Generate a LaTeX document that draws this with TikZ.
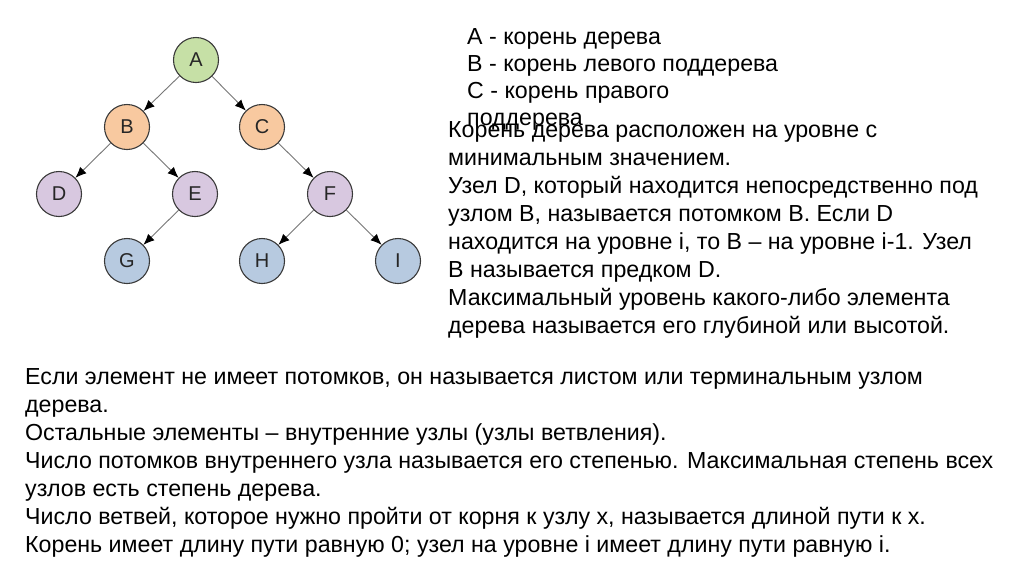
\documentclass[tikz,border=0pt]{standalone}
\usepackage{fontspec}
\setmainfont{Liberation Sans}
\usetikzlibrary{arrows.meta}
\definecolor{cA}{HTML}{C6E0A6}
\definecolor{cB}{HTML}{F8C9A0}
\definecolor{cD}{HTML}{D8C8E0}
\definecolor{cG}{HTML}{B7CAE0}
\definecolor{edgec}{HTML}{777777}
\definecolor{bord}{HTML}{3A3A3A}
\tikzset{
  tnode/.style={circle, draw=bord, line width=1.1pt, minimum size=45pt, inner sep=0pt, font=\fontsize{20}{20}\selectfont, text=black!85},
  tedge/.style={draw=edgec, line width=0.9pt, -{Latex[color=black,length=11pt,width=9pt]}},
  txt/.style={anchor=base west, inner sep=0pt, font=\fontsize{23.2}{23.2}\selectfont},
}
\begin{document}
\begin{tikzpicture}[x=1pt,y=-1pt]
\useasboundingbox[fill=white] (0,0) rectangle (1024,574);
% tree
\node[tnode, fill=cA] (A) at (196,60) {A};
\node[tnode, fill=cB] (B) at (127,127) {B};
\node[tnode, fill=cB] (C) at (262,127) {C};
\node[tnode, fill=cD] (D) at (59,194) {D};
\node[tnode, fill=cD] (E) at (195,194) {E};
\node[tnode, fill=cD] (F) at (330,194) {F};
\node[tnode, fill=cG] (G) at (127,261) {G};
\node[tnode, fill=cG] (H) at (262,261) {H};
\node[tnode, fill=cG] (I) at (398,261) {I};
\draw[tedge] (A) -- (B);
\draw[tedge] (A) -- (C);
\draw[tedge] (B) -- (D);
\draw[tedge] (B) -- (E);
\draw[tedge] (C) -- (F);
\draw[tedge] (E) -- (G);
\draw[tedge] (F) -- (H);
\draw[tedge] (F) -- (I);
% legend text
\node[txt] (l1) at (467,44) {А - корень дерева};
\node[txt] (l2) at (467,71) {В - корень левого поддерева};
\node[txt] (l3) at (467,98) {С - корень правого};
\node[txt] (l4) at (467,125) {поддерева};
% definitions
\node[txt] (d1) at (448,137) {Корень дерева расположен на уровне с};
\node[txt] (d2) at (448,165) {минимальным значением.};
\node[txt] (d3) at (448,193) {Узел D, который находится непосредственно под};
\node[txt] (d4) at (448,221) {узлом B, называется потомком B. Если D};
\node[txt] (d5) at (448,249) {находится на уровне i, то B – на уровне i-1. Узел};
\node[txt] (d6) at (448,277) {B называется предком D.};
\node[txt] (d7) at (448,305) {Максимальный уровень какого-либо элемента};
\node[txt] (d8) at (448,333) {дерева называется его глубиной или высотой.};
% bottom block
\node[txt] (b1) at (25,384) {Если элемент не имеет потомков, он называется листом или терминальным узлом};
\node[txt] (b2) at (25,412) {дерева.};
\node[txt] (b3) at (25,440) {Остальные элементы – внутренние узлы (узлы ветвления).};
\node[txt] (b4) at (25,468) {Число потомков внутреннего узла называется его степенью. Максимальная степень всех};
\node[txt] (b5) at (25,496) {узлов есть степень дерева.};
\node[txt] (b6) at (25,524) {Число ветвей, которое нужно пройти от корня к узлу x, называется длиной пути к x.};
\node[txt] (b7) at (25,552) {Корень имеет длину пути равную 0; узел на уровне i имеет длину пути равную i.};
\end{tikzpicture}
\end{document}
